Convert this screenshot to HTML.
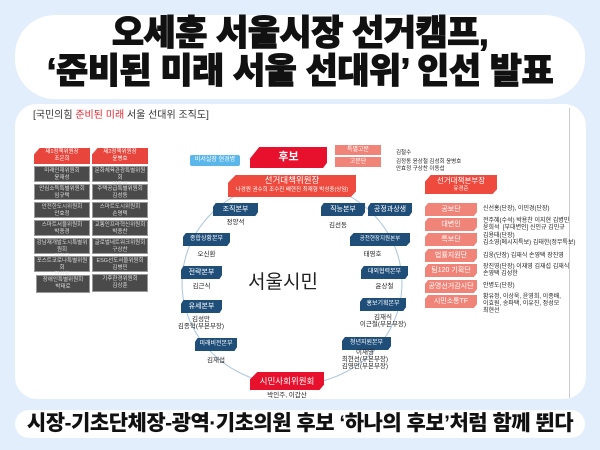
<!DOCTYPE html>
<html><head><meta charset="utf-8"><style>
*{margin:0;padding:0;box-sizing:border-box}
body{width:600px;height:450px;background:#e3eefc;position:relative;overflow:hidden;font-family:"Liberation Sans","Noto Sans CJK KR",sans-serif}
.a{position:absolute}
.pill{background:#fff;border-radius:40px}
.t{font-weight:900;color:#111;text-align:center;font-size:35px;letter-spacing:-0.5px;width:600px;left:0;line-height:36px;-webkit-text-stroke:1px #111}
.nv{position:absolute;background:#1f4e79;color:#fff;font-size:7px;text-align:center;line-height:13px;clip-path:polygon(6% 0,100% 0,100% 70%,94% 100%,0 100%,0 30%)}
.lb{position:absolute;font-size:6.5px;color:#222;text-align:center;line-height:7px}
.gr{position:absolute;background:#4a4a4a;color:#ddd;font-size:5.5px;text-align:center;line-height:7px;padding-top:1px;border:1px solid #999}
.pk{position:absolute;background:#f08478;color:#fff;font-size:7px;text-align:center;line-height:13px;left:425px;width:52px;clip-path:polygon(6% 0,100% 0,100% 70%,94% 100%,0 100%,0 30%)}
.rt{position:absolute;left:483px;font-size:6px;color:#222;line-height:7px}
</style></head><body>
<div class="a pill" style="left:15px;top:15px;width:570px;height:84px"></div>
<div class="a t" style="top:16px">오세훈 서울시장 선거캠프,</div>
<div class="a t" style="top:54px">‘준비된 미래 서울 선대위’ 인선 발표</div>

<div class="a" style="left:15px;top:104px;width:571px;height:295px;background:#fff;border-radius:22px"></div>
<div class="a" style="left:569px;top:108px;width:1px;height:290px;background:#ccc"></div>
<div class="a" style="left:33px;top:106px;font-size:10px;color:#333">[국민의힘 <span style="color:#e8262e">준비된 미래</span> 서울 선대위 조직도]</div>

<div class="a" style="left:34px;top:148px;width:56px;height:16px;background:#e8453c;color:#fff;font-size:5.5px;text-align:center;line-height:7px;padding-top:1px;clip-path:polygon(10% 0,100% 0,100% 100%,0 100%,0 40%)">제1정책위원장<br>조은희</div>
<div class="a" style="left:92px;top:148px;width:56px;height:16px;background:#e8453c;color:#fff;font-size:5.5px;text-align:center;line-height:7px;padding-top:1px;clip-path:polygon(10% 0,100% 0,100% 100%,0 100%,0 40%)">제2정책위원장<br>윤병호</div>
<div class="gr" style="left:34px;top:166px;width:56px;height:16px">미래인재위원회<br>윤재성</div>
<div class="gr" style="left:34px;top:184px;width:56px;height:16px">안심소득특별위원회<br>임규택</div>
<div class="gr" style="left:34px;top:202px;width:56px;height:16px">안전한도시위원회<br>안효정</div>
<div class="gr" style="left:34px;top:220px;width:56px;height:16px">스마트서울위원회<br>박종경</div>
<div class="gr" style="left:34px;top:238px;width:56px;height:16px">강남재개발도시특별위원회<br>김철근</div>
<div class="gr" style="left:34px;top:256px;width:56px;height:16px">포스트코로나특별위원회<br>한상락</div>
<div class="gr" style="left:36px;top:275px;width:54px;height:18px">장애인특별위원회<br>박태로</div>
<div class="gr" style="left:92px;top:166px;width:56px;height:16px">문화체육관광특별위원회<br>이동섭</div>
<div class="gr" style="left:92px;top:184px;width:56px;height:16px">주택공급특별위원회<br>김성동</div>
<div class="gr" style="left:92px;top:202px;width:56px;height:16px">스마트도시위원회<br>손명택</div>
<div class="gr" style="left:92px;top:220px;width:56px;height:16px">교통인프라혁신위원회<br>박종찬</div>
<div class="gr" style="left:92px;top:238px;width:56px;height:16px">글로벌네트워크위원회<br>구상찬</div>
<div class="gr" style="left:92px;top:256px;width:56px;height:16px">ESG선도서울위원회<br>김병민</div>
<div class="gr" style="left:92px;top:274px;width:56px;height:18px">기후환경위원회<br>김상훈</div>

<svg class="a" style="left:0;top:0" width="600" height="450">
<ellipse cx="292" cy="283" rx="110" ry="102" fill="none" stroke="#a9c4e0" stroke-width="1"/>
</svg>

<div class="a" style="left:190px;top:155px;width:50px;height:11px;background:#5bb6ea;color:#fff;font-size:6px;text-align:center;line-height:11px;border-radius:2px">비서실장 현경병</div>
<div class="a" style="left:250px;top:147px;width:77px;height:21px;background:#e8112d;color:#fff;font-size:11px;font-weight:bold;text-align:center;line-height:21px;clip-path:polygon(12% 0,100% 0,100% 75%,95% 100%,0 100%,0 55%)">후보</div>
<div class="a" style="left:335px;top:145px;width:46px;height:10px;background:#f08478;color:#fff;font-size:6px;text-align:center;line-height:10px">특별고문</div>
<div class="a" style="left:335px;top:157px;width:46px;height:10px;background:#f08478;color:#fff;font-size:6px;text-align:center;line-height:10px">고문단</div>
<div class="a" style="left:396px;top:148px;font-size:5.5px;color:#222">김철수</div>
<div class="a" style="left:396px;top:159px;font-size:5.5px;color:#222;line-height:7px">김정동 윤상철 김성회 윤병호<br>안효정 구상찬 이동섭</div>

<div class="a" style="left:228px;top:175px;width:128px;height:22px;background:#ee4a3e;color:#fff;text-align:center;clip-path:polygon(6% 0,100% 0,100% 75%,96% 100%,0 100%,0 35%)"><div style="font-size:8.5px;line-height:11px">선거대책위원장</div><div style="font-size:5.5px;line-height:8px">나경원 권수희 조수진 배현진 최재형 박성중(상임)</div></div>

<div class="nv" style="left:213px;top:203px;width:45px">조직본부</div><div class="lb" style="left:213px;top:219px;width:45px">정양석</div>
<div class="nv" style="left:321px;top:203px;width:44px">직능본부</div><div class="lb" style="left:321px;top:222px;width:34px">김선동</div>
<div class="nv" style="left:368px;top:203px;width:44px">공정과상생</div>
<div class="nv" style="left:183px;top:233px;width:47px;font-size:6px">종합상황본부</div><div class="lb" style="left:183px;top:251px;width:47px">오신환</div>
<div class="nv" style="left:350px;top:233px;width:60px;font-size:5.5px">공천현장지원본부</div><div class="lb" style="left:350px;top:251px;width:45px">태영호</div>
<div class="nv" style="left:181px;top:266px;width:41px">전략본부</div><div class="lb" style="left:181px;top:283px;width:41px">김근식</div>
<div class="nv" style="left:361px;top:266px;width:47px;font-size:6px">대외협력본부</div><div class="lb" style="left:361px;top:283px;width:47px">윤상철</div>
<div class="nv" style="left:181px;top:300px;width:41px">유세본부</div><div class="lb" style="left:176px;top:316px;width:50px">김성만<br>김종혁(부본부장)</div>
<div class="nv" style="left:360px;top:298px;width:46px;font-size:6px">홍보기획본부</div><div class="lb" style="left:356px;top:314px;width:54px">김재식<br>이근철(부본부장)</div>
<div class="nv" style="left:195px;top:338px;width:42px;font-size:6px">미래비전본부</div><div class="lb" style="left:195px;top:357px;width:42px">김재섭</div>
<div class="nv" style="left:342px;top:337px;width:49px;font-size:6px">청년지원본부</div><div class="lb" style="left:340px;top:349px;width:50px">이재영<br>최현선(부본부장)<br>김영민(부본부장)</div>

<div class="a" style="left:248px;top:267px;font-size:19px;color:#222">서울시민</div>

<div class="a" style="left:250px;top:372px;width:74px;height:18px;background:#e8112d;color:#fff;font-size:8.5px;text-align:center;line-height:18px;clip-path:polygon(10% 0,100% 0,100% 70%,94% 100%,0 100%,0 40%)">시민사회위원회</div>
<div class="lb" style="left:255px;top:392px;width:64px">박인주, 이갑산</div>

<div class="a" style="left:425px;top:175px;width:72px;height:19px;background:#ee4a3e;color:#fff;text-align:center;clip-path:polygon(8% 0,100% 0,100% 75%,94% 100%,0 100%,0 35%)"><div style="font-size:7.5px;line-height:11px">선거대책본부장</div><div style="font-size:5.5px;line-height:7px">유경준</div></div>
<div class="pk" style="top:203px">공보단</div><div class="rt" style="top:206px">신선홍(단장), 이민경(단장)</div>
<div class="pk" style="top:218px">대변인</div><div class="rt" style="top:218px">전주혜(수석) 박용찬 이지현 김병민<br>윤희석 &nbsp;[부대변인] 신인규 김민규</div>
<div class="pk" style="top:233px">특보단</div><div class="rt" style="top:233px">김용태(단장)<br>김소영(메시지특보) 김태한(정무특보)</div>
<div class="pk" style="top:249px">법률지원단</div><div class="rt" style="top:253px">김웅(단장) 김재식 손영택 장진영</div>
<div class="pk" style="top:264px">팀120 기획단</div><div class="rt" style="top:264px">장진영(단장) 이재영 김재섭 김재식<br>손영택 김성한</div>
<div class="pk" style="top:280px">공명선거감시단</div><div class="rt" style="top:283px">안병도(단장)</div>
<div class="pk" style="top:295px">시민소통TF</div><div class="rt" style="top:294px">황유정, 이상욱, 윤영희, 이종배,<br>이효원, 송파택, 이유진, 정성모<br>최현선</div>

<div class="a pill" style="left:15px;top:410px;width:570px;height:28px;border-radius:16px"></div>
<div class="a" style="left:0;top:410px;width:600px;text-align:center;font-size:21px;font-weight:900;color:#111;line-height:28px;letter-spacing:-0.5px">시장-기초단체장-광역·기초의원 후보 ‘하나의 후보’처럼 함께 뛴다</div>
</body></html>
